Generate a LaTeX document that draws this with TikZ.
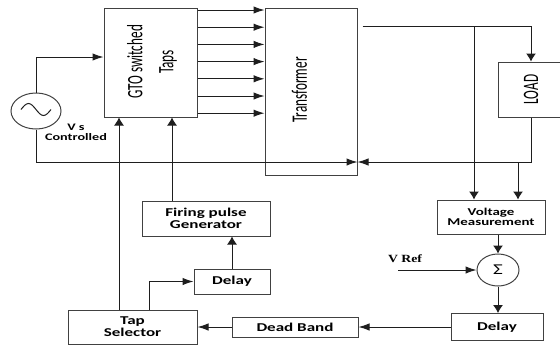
\documentclass[tikz,border=0pt]{standalone}
\usepackage{fontspec}
\setmainfont{Carlito}
\newfontfamily\widefont[FakeStretch=1.42]{Carlito}
\newfontfamily\narrowfont[FakeStretch=0.6]{Carlito}
\newfontfamily\reffont[FakeStretch=1.25]{Liberation Serif}
\usepackage{xcolor}
\usepackage{tikz}
\usetikzlibrary{arrows.meta,positioning,calc,shapes.geometric}
\definecolor{linegray}{RGB}{30,30,30}
\definecolor{boxgray}{RGB}{65,65,65}
\tikzset{
  block/.style={rectangle,draw=boxgray,line width=1pt,inner sep=0pt},
  oval/.style={ellipse,draw=boxgray,line width=1pt,inner sep=0pt},
  wire/.style={line width=1pt,draw=linegray},
  arr/.style={-{Latex[length=11pt,width=7.5pt]},line width=1pt,draw=linegray},
  varr/.style={-{Latex[length=8pt,width=10pt]},line width=1pt,draw=linegray}
}

\begin{document}
\begin{tikzpicture}[
  x=1pt,y=-1pt,
  talltext/.style={rotate=90,font=\narrowfont\fontsize{22}{31}\selectfont,align=center},
  boldlabel/.style={font=\widefont\bfseries\fontsize{12}{12}\selectfont,align=center},
  smalllabel/.style={font=\widefont\bfseries\fontsize{10.5}{10}\selectfont,align=center},
  srclabel/.style={font=\widefont\bfseries\fontsize{10}{10}\selectfont,align=center},
  reflabel/.style={font=\reffont\bfseries\fontsize{11}{11}\selectfont}
]
\clip (0,0) rectangle (560,346);

% power path
\node[block,minimum width=93pt,minimum height=109pt] (gto) at (150.5,62.5) {};
\node[talltext] (gtotext) at (152,62) {GTO switched\\Taps};

\node[block,minimum width=92pt,minimum height=167pt] (xfmr) at (311,91.5) {};
\node[talltext] (xfmrtext) at (299.5,90) {Transformer};

\node[block,minimum width=66pt,minimum height=55pt] (load) at (531,89.5) {};
\node[talltext] (loadtext) at (load.center) {LOAD};

\node[oval,minimum width=50pt,minimum height=36pt] (src) at (36,111) {};
\draw[wire] ([xshift=-15pt,yshift=1.5pt]src.center)
  sin ++(7.5,-6) cos ++(7.5,6) sin ++(7.5,6) cos ++(7.5,-6);
\node[srclabel] (srctext) at (76,132) {V s\\Controlled};

% control path
\node[block,minimum width=108pt,minimum height=34pt,smalllabel] (vm) at (491,217)
  {Voltage\\Measurement};
\node[oval,minimum width=42pt,minimum height=32pt,
  font=\widefont\fontsize{15}{15}\selectfont] (sum) at (498,270) {Σ};
\node[reflabel] (vreftext) at (405,259) {V Ref};
\coordinate (vref) at (398,270);

\node[block,minimum width=92pt,minimum height=27pt,boldlabel] (dly2) at (497,327) {Delay};
\node[block,minimum width=126pt,minimum height=20pt,boldlabel] (dband) at (295,327) {Dead Band};
\node[block,minimum width=129pt,minimum height=34pt,boldlabel] (tapsel) at (132.5,327)
  {Tap\\Selector};
\node[block,minimum width=76pt,minimum height=25pt,boldlabel] (dly1) at (232,281.5) {Delay};
\node[block,minimum width=128pt,minimum height=35pt,boldlabel] (fpg) at (206,218.5)
  {Firing pulse\\Generator};

% taps into the transformer
\foreach \i in {0,...,6}
  \draw[arr] ([yshift={52.5pt-17.2pt*\i}]gto.east) coordinate (gtoout) -- (gtoout -| xfmr.west);

\draw[arr] (src.north) |- ([yshift=5.5pt]gto.west);
\coordinate (xin) at ([yshift=-70.5pt]xfmr.east);
\draw[arr] (src.south) |- (xin);

\coordinate (xout) at ([xshift=5pt,yshift=65.5pt]xfmr.east);
\draw[varr] (xout) -| (load.north);
\draw[arr] (load.south) |- (xin);

\coordinate (vmA) at ([xshift=-17pt]vm.north);
\coordinate (vmB) at ([xshift=27pt]vm.north);
\draw[varr] (vmA |- xout) -- (vmA);
\draw[varr] (vmB |- xin) -- (vmB);

\draw[varr] (sum.north |- vm.south) -- (sum.north);
\draw[arr] (vref) -- (sum.west);
\draw[varr] (sum.south) -- (sum.south |- dly2.north);
\draw[arr] (dly2.west) -- (dband.east);
\draw[arr] (dband.west) -- (tapsel.east);

\draw[varr] ([xshift=-13.5pt]tapsel.north) -- ([xshift=-31.5pt]gto.south);
\draw[arr] ([xshift=17pt]tapsel.north) |- (dly1.west);
\draw[varr] (dly1.north) -- (dly1.north |- fpg.south);
\draw[varr] ([xshift=-34pt]fpg.north) -- ([xshift=21.5pt]gto.south);

\end{tikzpicture}
\end{document}
